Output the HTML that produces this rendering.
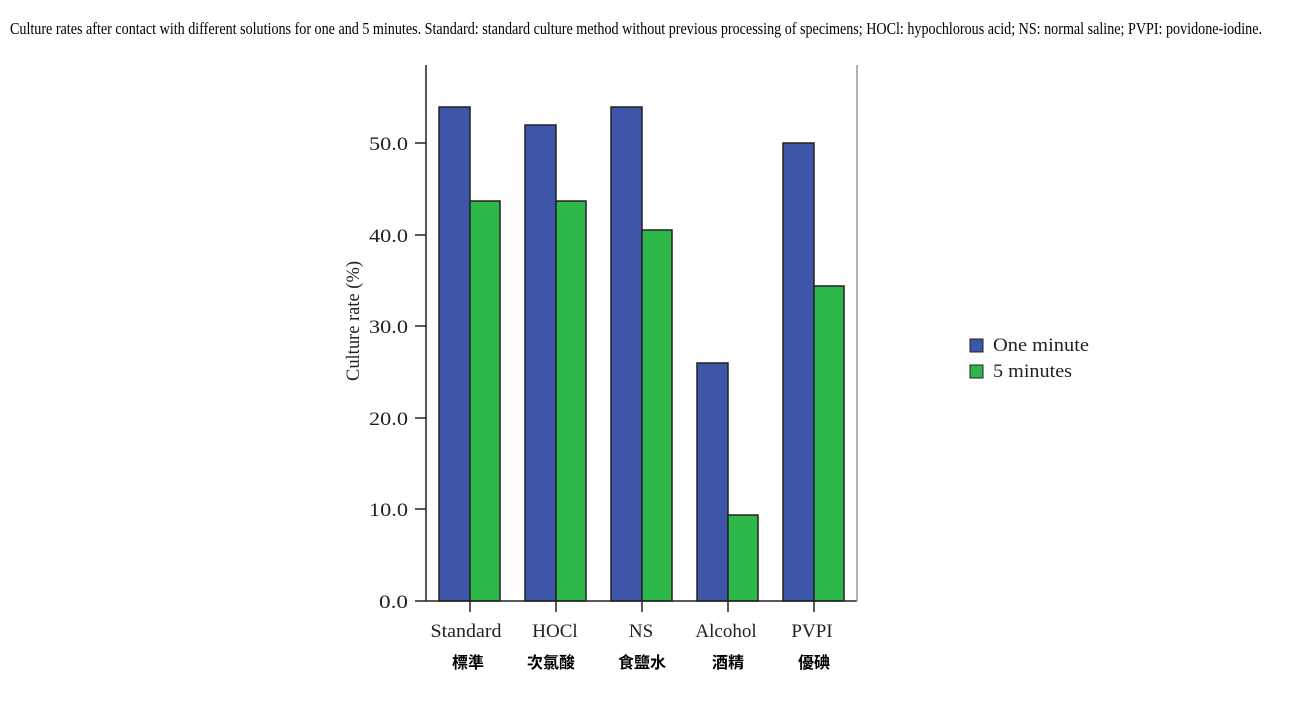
<!DOCTYPE html>
<html><head><meta charset="utf-8"><style>
html,body{margin:0;padding:0;background:#fff;width:1297px;height:707px;overflow:hidden}
</style></head><body>
<svg width="1297" height="707" xmlns="http://www.w3.org/2000/svg" style="position:absolute;left:0;top:0">
<text x="10" y="34" font-family="Liberation Serif, serif" font-size="17" textLength="1252" lengthAdjust="spacingAndGlyphs" fill="#000">Culture rates after contact with different solutions for one and 5 minutes. Standard: standard culture method without previous processing of specimens; HOCl: hypochlorous acid; NS: normal saline; PVPI: povidone-iodine.</text>
<g stroke="#222" stroke-width="1.5">
<rect x="439" y="107" width="31" height="494" fill="#3d56a9"/>
<rect x="470" y="201" width="30" height="400" fill="#2fb84a"/>
<rect x="525" y="125" width="31" height="476" fill="#3d56a9"/>
<rect x="556" y="201" width="30" height="400" fill="#2fb84a"/>
<rect x="611" y="107" width="31" height="494" fill="#3d56a9"/>
<rect x="642" y="230" width="30" height="371" fill="#2fb84a"/>
<rect x="697" y="363" width="31" height="238" fill="#3d56a9"/>
<rect x="728" y="515" width="30" height="86" fill="#2fb84a"/>
<rect x="783" y="143" width="31" height="458" fill="#3d56a9"/>
<rect x="814" y="286" width="30" height="315" fill="#2fb84a"/>
</g>
<g stroke="#222" stroke-width="1.5">
<line x1="426" y1="65" x2="426" y2="601"/>
<line x1="415" y1="601" x2="857" y2="601"/>
<line x1="415" y1="143" x2="426" y2="143"/>
<line x1="415" y1="235" x2="426" y2="235"/>
<line x1="415" y1="326" x2="426" y2="326"/>
<line x1="415" y1="418" x2="426" y2="418"/>
<line x1="415" y1="509" x2="426" y2="509"/>
<line x1="470" y1="601" x2="470" y2="612"/>
<line x1="556" y1="601" x2="556" y2="612"/>
<line x1="642" y1="601" x2="642" y2="612"/>
<line x1="728" y1="601" x2="728" y2="612"/>
<line x1="814" y1="601" x2="814" y2="612"/>
</g>
<line x1="857" y1="65" x2="857" y2="601" stroke="#999" stroke-width="1.5"/>
<g font-family="Liberation Serif, serif" font-size="19" fill="#222" text-anchor="end">
<text x="408" y="150" textLength="39" lengthAdjust="spacingAndGlyphs">50.0</text><text x="408" y="242" textLength="39" lengthAdjust="spacingAndGlyphs">40.0</text><text x="408" y="333" textLength="39" lengthAdjust="spacingAndGlyphs">30.0</text>
<text x="408" y="425" textLength="39" lengthAdjust="spacingAndGlyphs">20.0</text><text x="408" y="516" textLength="39" lengthAdjust="spacingAndGlyphs">10.0</text><text x="408" y="608" textLength="29" lengthAdjust="spacingAndGlyphs">0.0</text>
</g>
<text transform="translate(359,321) rotate(-90)" font-family="Liberation Serif, serif" font-size="19" fill="#222" text-anchor="middle" textLength="120" lengthAdjust="spacingAndGlyphs">Culture rate (%)</text>
<g font-family="Liberation Serif, serif" font-size="19" fill="#222" text-anchor="middle">
<text x="466" y="637" textLength="71" lengthAdjust="spacingAndGlyphs">Standard</text><text x="555" y="637">HOCl</text><text x="641" y="637">NS</text>
<text x="726" y="637">Alcohol</text><text x="812" y="637">PVPI</text>
</g>
<g font-family="Liberation Sans, 'Noto Sans CJK TC', sans-serif" font-size="16" font-weight="bold" fill="#000" text-anchor="middle">
<text x="468" y="668">標準</text><text x="551" y="668">次氯酸</text><text x="642" y="668">食鹽水</text>
<text x="728" y="668">酒精</text><text x="814" y="668">優碘</text>
</g>
<rect x="970" y="339" width="13" height="13" fill="#3d56a9" stroke="#222"/>
<rect x="970" y="365" width="13" height="13" fill="#2fb84a" stroke="#222"/>
<g font-family="Liberation Serif, serif" font-size="19" fill="#222">
<text x="993" y="351" textLength="96" lengthAdjust="spacingAndGlyphs">One minute</text><text x="993" y="377" textLength="79" lengthAdjust="spacingAndGlyphs">5 minutes</text>
</g>
</svg>
</body></html>
